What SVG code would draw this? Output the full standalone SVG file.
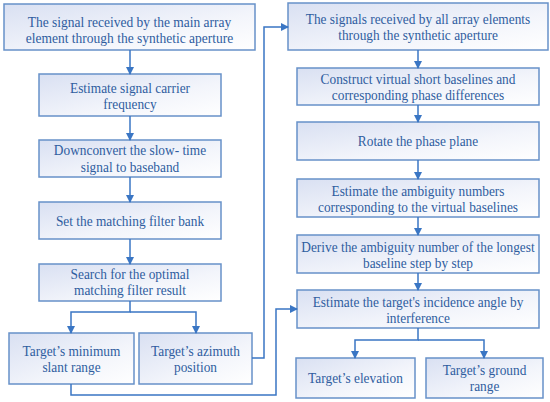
<svg xmlns="http://www.w3.org/2000/svg" width="550" height="402" viewBox="0 0 550 402">
<defs>
<linearGradient id="g" x1="0" y1="0" x2="1" y2="1">
<stop offset="0" stop-color="#d9e0f2"/>
<stop offset="0.6" stop-color="#f3f5fb"/>
<stop offset="1" stop-color="#ffffff"/>
</linearGradient>
<marker id="a" markerWidth="8" markerHeight="8" refX="7" refY="4" orient="auto" markerUnits="userSpaceOnUse">
<path d="M0,0 L8,4 L0,8 Z" fill="#3a76c4"/>
</marker>
<style>
rect{fill:url(#g);stroke:#6791c9;stroke-width:1.5}
text{font-family:"Liberation Serif","Times New Roman",serif;font-size:15px;fill:#2f5d9f;text-anchor:middle}
.c path{fill:none;stroke:#3a76c4;stroke-width:1.5}
</style>
</defs>
<rect x="0" y="0" width="550" height="402" style="fill:#fff;stroke:none"/>
<g id="n1"><rect x="4" y="4" width="251" height="46"/><text transform="translate(129.5,27) scale(.9,1)">The signal received by the main array</text><text transform="translate(129.5,43) scale(.9,1)">element through the synthetic aperture</text></g>
<g id="n2"><rect x="39" y="74" width="182" height="42"/><text transform="translate(130,93) scale(.89,1)">Estimate signal carrier</text><text transform="translate(130,109) scale(.89,1)">frequency</text></g>
<g id="n3"><rect x="39" y="140" width="182" height="37"/><text transform="translate(130,155) scale(.89,1)">Downconvert the slow- time</text><text transform="translate(130,171.5) scale(.89,1)">signal to baseband</text></g>
<g id="n4"><rect x="39" y="202" width="182" height="37"/><text transform="translate(130,226) scale(.89,1)">Set the matching filter bank</text></g>
<g id="n5"><rect x="39" y="264" width="182" height="37"/><text transform="translate(130,279) scale(.89,1)">Search for the optimal</text><text transform="translate(130,295) scale(.89,1)">matching filter result</text></g>
<g id="n6"><rect x="9" y="333" width="125" height="51"/><text transform="translate(71.5,356) scale(.89,1)">Target’s minimum</text><text transform="translate(71.5,372) scale(.89,1)">slant range</text></g>
<g id="n7"><rect x="139" y="333" width="113" height="51"/><text transform="translate(195.5,356) scale(.89,1)">Target’s azimuth</text><text transform="translate(195.5,372) scale(.89,1)">position</text></g>
<g id="n8"><rect x="288" y="3" width="260" height="47"/><text transform="translate(418,24) scale(.89,1)">The signals received by all array elements</text><text transform="translate(418,40) scale(.89,1)">through the synthetic aperture</text></g>
<g id="n9"><rect x="297" y="68" width="242" height="37"/><text transform="translate(418,84) scale(.89,1)">Construct virtual short baselines and</text><text transform="translate(418,100) scale(.89,1)">corresponding phase differences</text></g>
<g id="n10"><rect x="297" y="122" width="242" height="38"/><text transform="translate(418,146) scale(.89,1)">Rotate the phase plane</text></g>
<g id="n11"><rect x="297" y="179" width="242" height="38"/><text transform="translate(418,196) scale(.89,1)">Estimate the ambiguity numbers</text><text transform="translate(418,212) scale(.89,1)">corresponding to the virtual baselines</text></g>
<g id="n12"><rect x="297" y="235" width="242" height="38"/><text transform="translate(418,252) scale(.89,1)">Derive the ambiguity number of the longest</text><text transform="translate(418,268) scale(.89,1)">baseline step by step</text></g>
<g id="n13"><rect x="297" y="290" width="242" height="38"/><text transform="translate(418,307) scale(.89,1)">Estimate the target's incidence angle by</text><text transform="translate(418,323) scale(.89,1)">interference</text></g>
<g id="n14"><rect x="296" y="358" width="119" height="40"/><text transform="translate(355.5,383) scale(.89,1)">Target’s elevation</text></g>
<g id="n15"><rect x="426" y="358" width="117" height="40"/><text transform="translate(484.5,375) scale(.89,1)">Target’s ground</text><text transform="translate(484.5,391) scale(.89,1)">range</text></g>
<g class="c" id="connectors">
<path d="M130,50 V74" marker-end="url(#a)"/>
<path d="M130,116 V140" marker-end="url(#a)"/>
<path d="M130,177 V202" marker-end="url(#a)"/>
<path d="M130,239 V264" marker-end="url(#a)"/>
<path d="M130,301 V312 H71 V333" marker-end="url(#a)"/>
<path d="M130,312 H196 V333" marker-end="url(#a)"/>
<path d="M252,358 H264 V27 H288" marker-end="url(#a)"/>
<path d="M71,384 V395 H276 V309 H297" marker-end="url(#a)"/>
<path d="M418,50 V68" marker-end="url(#a)"/>
<path d="M418,105 V122" marker-end="url(#a)"/>
<path d="M418,160 V179" marker-end="url(#a)"/>
<path d="M418,217 V235" marker-end="url(#a)"/>
<path d="M418,273 V290" marker-end="url(#a)"/>
<path d="M418,328 V340 H355 V358" marker-end="url(#a)"/>
<path d="M418,340 H484 V358" marker-end="url(#a)"/>
</g>
</svg>
